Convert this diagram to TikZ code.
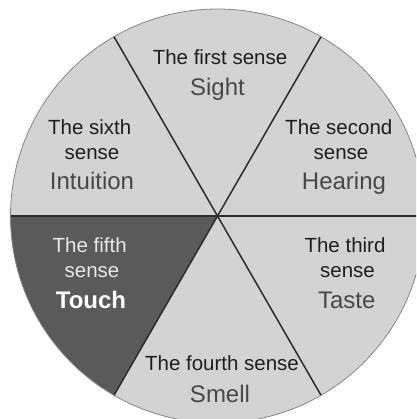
\documentclass[tikz,border=0pt]{standalone}
\usepackage{fontspec}
\setmainfont{Liberation Sans}
\definecolor{lightfill}{HTML}{D3D3D3}
\definecolor{darkfill}{HTML}{5A5A5A}
\definecolor{divline}{HTML}{2B2B2B}
\definecolor{rimline}{HTML}{858585}
\definecolor{txtdark}{HTML}{1E1E1E}
\definecolor{txtname}{HTML}{474747}
\definecolor{txtlight}{HTML}{E8E8E8}
\begin{document}
\begin{tikzpicture}[
  small/.style={anchor=base, inner sep=0pt, font=\fontsize{20.5}{24}\selectfont, text=txtdark},
  big/.style={anchor=base, inner sep=0pt, font=\fontsize{24}{28}\selectfont, text=txtname},
  div/.style={draw=divline, line width=1.5pt},
  rim/.style={draw=rimline, line width=0.8pt}
]
\useasboundingbox (0,0) rectangle (416pt,-419pt);
\clip (0,0) rectangle (416pt,-419pt);
\coordinate (c) at (217.5pt,-216pt);
\fill[lightfill] (c) circle (207pt);
\fill[darkfill] (c) -- ([shift={(180:207pt)}]c) arc (180:240:207pt) -- cycle;
\draw[rim] (c) circle (207pt);
\coordinate (p0) at ([shift={(0:207pt)}]c);
\coordinate (p60) at ([shift={(60:207pt)}]c);
\coordinate (p120) at ([shift={(120:207pt)}]c);
\coordinate (p180) at ([shift={(180:207pt)}]c);
\coordinate (p240) at ([shift={(240:207pt)}]c);
\coordinate (p300) at ([shift={(300:207pt)}]c);
\draw[div] (p0) -- (p180);
\draw[div] (p60) -- (p240);
\draw[div] (p120) -- (p300);
% first
\node[small] (s1a) at (220pt,-65pt) {The first sense};
\node[big] (s1b) at (217.5pt,-96pt) {Sight};
% second
\node[small] (s2a) at (338.8pt,-135pt) {The second};
\node[small] (s2b) at (341pt,-160pt) {sense};
\node[big] (s2c) at (344pt,-190pt) {Hearing};
% third
\node[small] (s3a) at (345pt,-252pt) {The third};
\node[small] (s3b) at (347.5pt,-277pt) {sense};
\node[big] (s3c) at (346.7pt,-308pt) {Taste};
% fourth
\node[small] (s4a) at (222pt,-370pt) {The fourth sense};
\node[big] (s4b) at (220pt,-402pt) {Smell};
% fifth
\node[small, text=txtlight] (s5a) at (89.7pt,-252pt) {The fifth};
\node[small, text=txtlight] (s5b) at (92pt,-277pt) {sense};
\node[big, text=white, font=\fontsize{24}{28}\selectfont\bfseries] (s5c) at (91pt,-308pt) {Touch};
% sixth
\node[small] (s6a) at (89.7pt,-135pt) {The sixth};
\node[small] (s6b) at (92pt,-160pt) {sense};
\node[big] (s6c) at (92pt,-190pt) {Intuition};
\end{tikzpicture}
\end{document}
